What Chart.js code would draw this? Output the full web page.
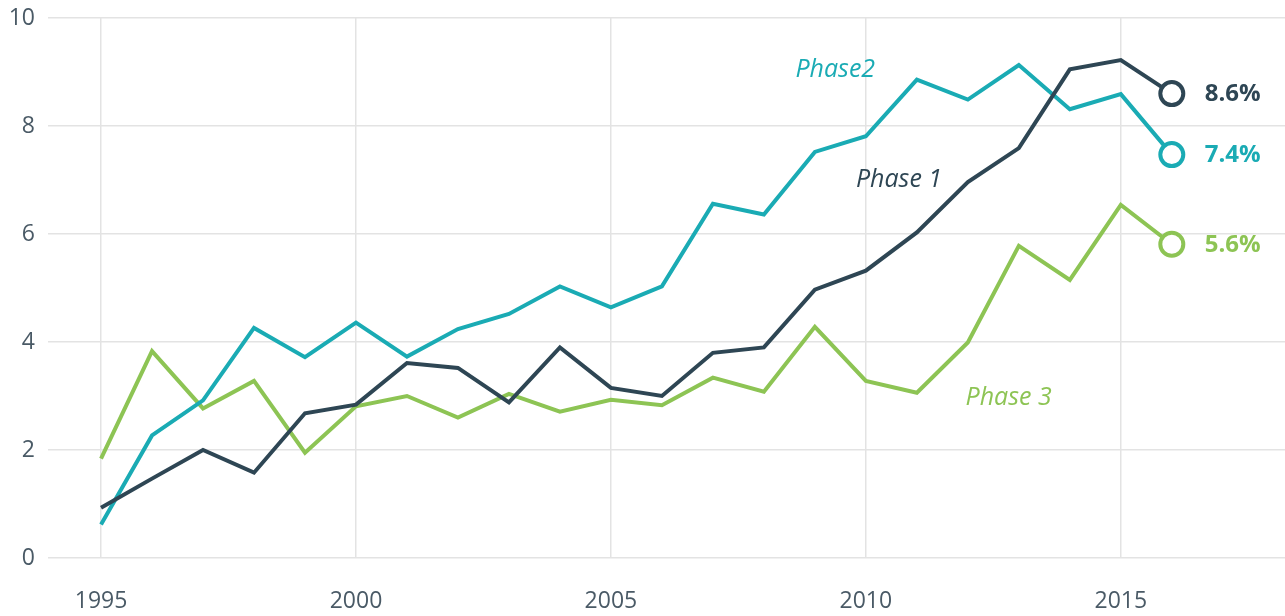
<!DOCTYPE html>
<html>
<head>
<meta charset="utf-8">
<script src="https://cdn.jsdelivr.net/npm/chart.js@4"></script>
<style>
  html, body { margin: 0; padding: 0; background: #fff; overflow: hidden; }
  canvas { display: block; }
</style>
</head>
<body>
<canvas id="line-chart" width="1285" height="616"></canvas>
<script>
const years = [1995, 1996, 1997, 1998, 1999, 2000, 2001, 2002, 2003, 2004, 2005,
  2006, 2007, 2008, 2009, 2010, 2011, 2012, 2013, 2014, 2015, 2016];

const phase1 = [0.93, 1.47, 2.0, 1.58, 2.68, 2.84, 3.61, 3.52, 2.88, 3.9, 3.15,
  3.0, 3.8, 3.9, 4.97, 5.32, 6.03, 6.96, 7.59, 9.05, 9.22, 8.6];
const phase2 = [0.62, 2.27, 2.92, 4.26, 3.72, 4.36, 3.73, 4.24, 4.52, 5.03, 4.64,
  5.03, 6.56, 6.36, 7.52, 7.81, 8.86, 8.49, 9.13, 8.31, 8.59, 7.47];
const phase3 = [1.84, 3.83, 2.77, 3.28, 1.95, 2.81, 3.0, 2.6, 3.04, 2.71, 2.93,
  2.83, 3.34, 3.08, 4.28, 3.28, 3.06, 3.99, 5.78, 5.15, 6.54, 5.81];

const endLabels = ["8.6%", "7.4%", "5.6%"];
const xTicks = [1995, 2000, 2005, 2010, 2015];
const yTicks = [0, 2, 4, 6, 8, 10];

const darkColor = "#2e4654";
const tealColor = "#1aabb4";
const greenColor = "#8dc454";

// series name labels, placed in data coordinates
const phaseLabels = [
  { text: "Phase2", x: 2009.4, y: 9.04, color: tealColor },
  { text: "Phase 1", x: 2010.65, y: 7.0, color: darkColor },
  { text: "Phase 3", x: 2012.8, y: 2.96, color: greenColor },
];

const toPoints = (vals) => vals.map((v, i) => ({ x: years[i], y: v }));

// only the last point gets an open circle
const lastOnly = (big) => (ctx) => (ctx.dataIndex === years.length - 1 ? big : 0);

const makeSet = (label, vals, color) => ({
  label: label,
  data: toPoints(vals),
  borderColor: color,
  backgroundColor: "#ffffff",
  borderWidth: 4,
  lineTension: 0,
  pointRadius: lastOnly(11.5),
  pointHoverRadius: lastOnly(11.5),
  pointBorderWidth: 4,
  pointBackgroundColor: "#ffffff",
  pointBorderColor: color,
  clip: false,
});

const labelPlugin = {
  id: "labels",
  afterDatasetsDraw(chart) {
    const { ctx, scales } = chart;
    ctx.save();
    ctx.textBaseline = "middle";
    ctx.textAlign = "center";
    ctx.font = "italic 25px 'Open Sans'";
    phaseLabels.forEach((l) => {
      ctx.fillStyle = l.color;
      ctx.fillText(l.text, scales.x.getPixelForValue(l.x), scales.y.getPixelForValue(l.y));
    });
    ctx.textAlign = "left";
    ctx.font = "bold 24px 'Open Sans'";
    chart.data.datasets.forEach((ds, i) => {
      const meta = chart.getDatasetMeta(i);
      const pt = meta.data[meta.data.length - 1];
      ctx.fillStyle = ds.borderColor;
      ctx.fillText(endLabels[i], pt.x + 33, pt.y + 1);
    });
    ctx.restore();
  },
};

const ctx = document.getElementById("line-chart");

new Chart(ctx, {
  type: "line",
  data: {
    datasets: [
      makeSet("Phase 1", phase1, darkColor),
      makeSet("Phase2", phase2, tealColor),
      makeSet("Phase 3", phase3, greenColor),
    ],
  },
  options: {
    responsive: false,
    animation: false,
    layout: { autoPadding: false, padding: { top: 18, right: 0, left: 0, bottom: 0 } },
    scales: {
      x: {
        type: "linear",
        min: 1993.96,
        max: 2018.22,
        afterBuildTicks: (scale) => {
          scale.ticks = xTicks.map((v) => ({ value: v }));
        },
        afterFit: (scale) => {
          scale.height = 58;
          scale.paddingLeft = 0;
          scale.paddingRight = 0;
        },
        ticks: {
          color: "#4a5a66",
          font: { family: "'Open Sans'", size: 23 },
          padding: 30,
          maxRotation: 0,
          callback: (v) => String(v),
        },
        grid: { color: "#e3e3e3", lineWidth: 1.5, drawTicks: false },
        border: { display: false },
      },
      y: {
        min: 0,
        max: 10,
        afterBuildTicks: (scale) => {
          scale.ticks = yTicks.map((v) => ({ value: v }));
        },
        afterFit: (scale) => {
          scale.width = 48;
          scale.paddingTop = 0;
          scale.paddingBottom = 0;
        },
        ticks: {
          color: "#4a5a66",
          font: { family: "'Open Sans'", size: 23 },
          padding: 13,
        },
        grid: { color: "#e3e3e3", lineWidth: 1.5, drawTicks: false },
        border: { display: false },
      },
    },
    plugins: {
      legend: { display: false },
      tooltip: { enabled: false },
    },
  },
  plugins: [labelPlugin],
});
</script>
</body>
</html>
